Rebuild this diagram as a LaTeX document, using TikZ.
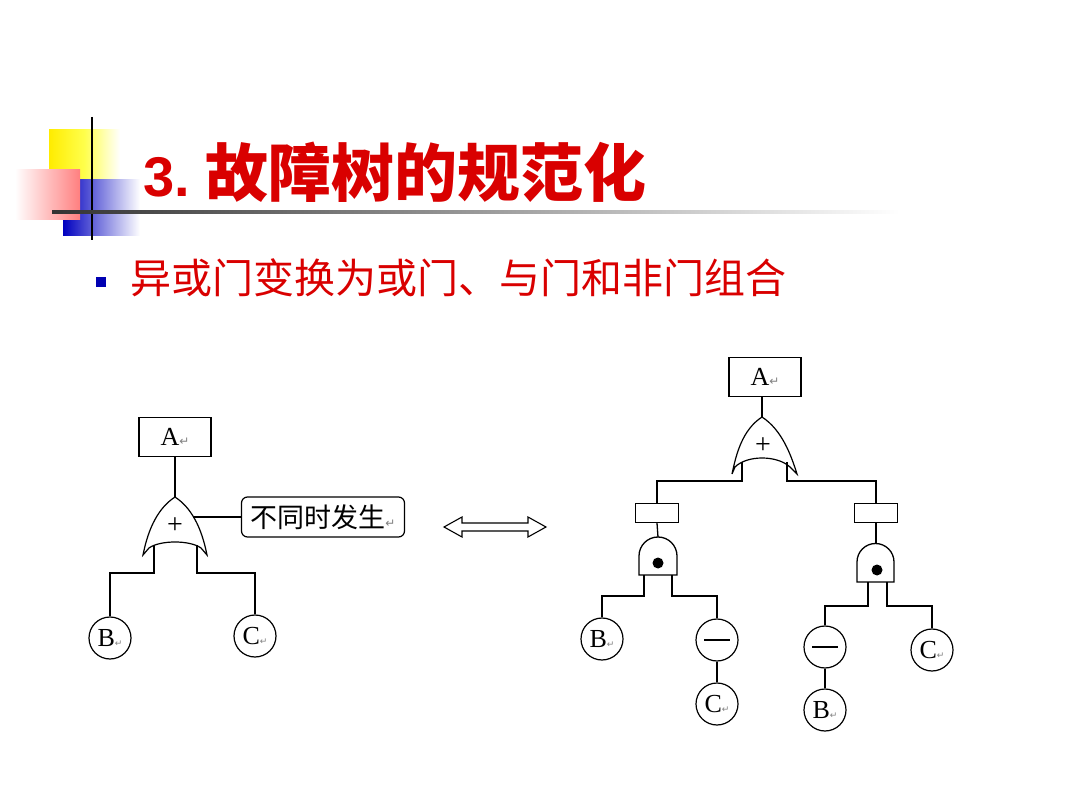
\documentclass[tikz,border=0pt]{standalone}
\usepackage{fontspec}
\newfontfamily\cjk{Noto Sans CJK SC}
\newfontfamily\arial{Liberation Sans}
\newfontfamily\sym{DejaVu Sans}
\newfontfamily\tms{Liberation Serif}
\begin{document}
\begin{tikzpicture}[x=1pt,y=-1pt,
  ln/.style={draw=black,line width=1.3pt},
  evt/.style={draw=black,line width=1.3pt,minimum width=72pt,minimum height=39pt,inner sep=0pt},
  bas/.style={draw=black,line width=1.2pt,circle,minimum size=42pt,inner sep=0pt,font=\tms\fontsize{26}{26}\selectfont},
  mid/.style={draw=black,line width=1.3pt,minimum width=43pt,minimum height=19pt,inner sep=0pt}]
\useasboundingbox (0,0) rectangle (1080,810);
% decoration
\shade[left color=yellow!85!orange,right color=white,middle color=yellow!70] (49,130) rectangle (120,180);
\shade[left color=blue!75!black,right color=white] (63,180) rectangle (140,236);
\shade[left color=white,right color=red!50] (15,170) rectangle (80,220);
\draw[line width=2pt] (92,117) -- (92,240);
\shade[left color=black!80,right color=white] (52,211) rectangle (900,214);
% title
\node[anchor=west,text=red!85!black,inner sep=0pt] (t) at (143,172) {\arial\bfseries\fontsize{56}{56}\selectfont 3.\ \cjk\fontsize{63}{63}\selectfont 故障树的规范化};
\node[fill=blue!70!black,minimum size=10pt,inner sep=0pt] (b) at (101,282) {};
\node[anchor=west,text=red!85!black,inner sep=0pt] (s) at (130,278) {\cjk\fontsize{41}{41}\selectfont 异或门变换为或门、与门和非门组合};
% left tree
\node[evt] (la) at (175,437) {\tms\fontsize{26}{26}\selectfont A\textcolor{gray}{\sym\fontsize{12}{12}\selectfont ↵}};
\coordinate (lg) at (175,497);
\draw[line width=1.2pt] (175,497) .. controls (195,510) and (203,535) .. (207,555) -- (201,548) .. controls (190,540) and (160,540) .. (149,548) -- (143,555) .. controls (147,535) and (155,510) .. (175,497) -- cycle;
\node[font=\tms\fontsize{28}{28}\selectfont] (lp) at (175,526) {+};
\draw[ln] (la.south) -- (lg);
\node[draw=black,line width=1.2pt,rounded corners=6pt,minimum width=163pt,minimum height=40pt,inner sep=0pt] (lbl) at (323,517) {\cjk\fontsize{27}{27}\selectfont 不同时发生\textcolor{gray}{\sym\fontsize{12}{12}\selectfont ↵}};
\draw[ln] (193,517) -- (lbl.west);
\node[bas] (lb) at (110,638) {B\textcolor{gray}{\sym\fontsize{9}{9}\selectfont ↵}};
\node[bas] (lc) at (255,636) {C\textcolor{gray}{\sym\fontsize{9}{9}\selectfont ↵}};
\draw[ln] (154,545) -- (154,573) -| (lb.north);
\draw[ln] (197,545) -- (197,573) -| (lc.north);
% double arrow
\draw[line width=1.1pt] (444,527) -- (462,517) -- (462,523) -- (528,523) -- (528,517) -- (546,527) -- (528,537) -- (528,531) -- (462,531) -- (462,537) -- cycle;
% right tree
\node[evt] (ra) at (765,377) {\tms\fontsize{26}{26}\selectfont A\textcolor{gray}{\sym\fontsize{12}{12}\selectfont ↵}};
\coordinate (rg) at (762,417);
\draw[line width=1.2pt] (762,417) .. controls (782,430) and (791,455) .. (797,474) -- (790,467) .. controls (777,455) and (747,455) .. (735,467) -- (732,474) .. controls (736,455) and (742,430) .. (762,417) -- cycle;
\node[font=\tms\fontsize{28}{28}\selectfont] (rp) at (763,446) {+};
\draw[ln] (762,397) -- (rg);
\node[mid] (m1) at (657,513) {};
\node[mid] (m2) at (876,513) {};
\draw[ln] (742,462) -- (742,481) -| (m1.north);
\draw[ln] (787,462) -- (787,481) -| (m2.north);
% AND gates
\draw[line width=1.3pt] (639,575) -- (639,556) arc[start angle=180,end angle=360,radius=19] -- (677,575) -- cycle;
\fill (658,563) circle (5.5);
\coordinate (g1) at (658,537);
\draw[ln] (m1.south) -- (g1);
\draw[line width=1.3pt] (857,582) -- (857,562) arc[start angle=180,end angle=360,radius=18.5] -- (894,582) -- cycle;
\fill (877,570) circle (5.5);
\coordinate (g2) at (876,543);
\draw[ln] (m2.south) -- (g2);
\node[bas] (rb1) at (602,639) {B\textcolor{gray}{\sym\fontsize{9}{9}\selectfont ↵}};
\node[bas] (n1) at (717,640) {};
\draw[line width=1.5pt] (704,640) -- (730,640);
\node[bas] (rc1) at (717,704) {C\textcolor{gray}{\sym\fontsize{9}{9}\selectfont ↵}};
\draw[ln] (644,575) -- (644,596) -| (rb1.north);
\draw[ln] (672,575) -- (672,596) -| (n1.north);
\draw[ln] (n1.south) -- (rc1.north);
\node[bas] (n2) at (825,647) {};
\draw[line width=1.5pt] (812,647) -- (838,647);
\node[bas] (rb2) at (825,710) {B\textcolor{gray}{\sym\fontsize{9}{9}\selectfont ↵}};
\node[bas] (rc2) at (932,650) {C\textcolor{gray}{\sym\fontsize{9}{9}\selectfont ↵}};
\draw[ln] (868,582) -- (868,606) -| (n2.north);
\draw[ln] (887,582) -- (887,606) -| (rc2.north);
\draw[ln] (n2.south) -- (rb2.north);
\end{tikzpicture}
\end{document}
